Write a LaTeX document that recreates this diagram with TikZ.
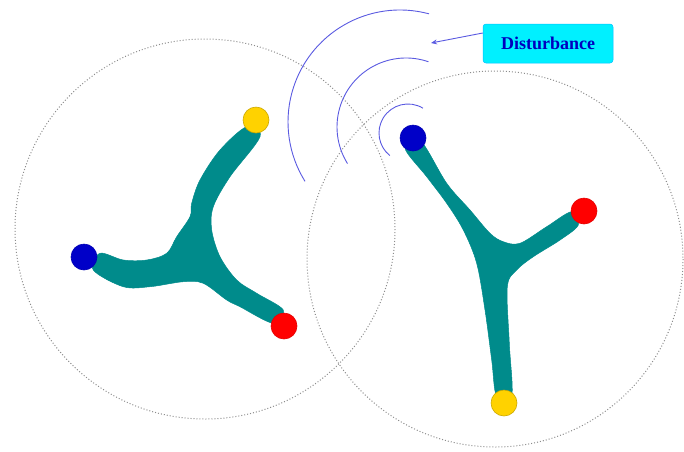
\documentclass[tikz,border=0pt]{standalone}
\usepackage{fontspec}
\setmainfont{Liberation Serif}
\usetikzlibrary{arrows.meta}
\definecolor{tealc}{RGB}{0,139,139}
\definecolor{ballblue}{RGB}{0,0,200}
\definecolor{ballred}{RGB}{255,0,0}
\definecolor{ballyellow}{RGB}{255,210,0}
\definecolor{wave}{RGB}{90,90,225}
\definecolor{boxcyan}{RGB}{0,240,255}
\definecolor{txtblue}{RGB}{0,0,190}
\definecolor{dotgray}{RGB}{140,140,140}
\tikzset{
  ball/.style={circle, minimum size=26pt, inner sep=0pt, line width=0.6pt},
  yball/.style={ball, fill=ballyellow, draw=ballyellow!80!black},
  rball/.style={ball, fill=ballred, draw=ballred!90!black},
  bball/.style={ball, fill=ballblue, draw=ballblue!90!black},
  ring/.style={draw=dotgray, dotted, line width=1pt},
  wavearc/.style={draw=wave, line width=0.9pt},
  body/.style={fill=tealc, draw=tealc, line width=0.5pt}
}
\begin{document}
\begin{tikzpicture}[x=1pt,y=-1pt]
\useasboundingbox (0,0) rectangle (684,451);
% rings
\draw[ring] (205,229) circle (190);
\draw[ring] (495,259) circle (188);
% waves
\draw[wavearc] (400,122) ++(-75:112) arc (-75:-212:112);
\draw[wavearc] (406,127) ++(-71:69) arc (-71:-212:69);
\draw[wavearc] (408,133) ++(-59:29) arc (-59:-231:29);
% left molecule body
\draw[body] plot[smooth cycle, tension=0.55] coordinates {
 (246.7,126.7) (220,150) (200,180) (191.7,203.3) (190,216.7) (176.7,236.7)
 (166.7,253.3) (146.7,260) (123.3,260) (100,253.3) (93.3,270) (123.3,286.7)
 (150,286.7) (183.3,281.7) (203.3,283.3) (226.7,300) (240,306.7) (273.3,323.3)
 (283.3,310) (256.7,293.3) (236.7,280) (220,256.7) (211.7,230) (213.3,206.7)
 (230,176.7) (260,136.7)};
% right molecule body
\draw[body] plot[smooth cycle, tension=0.55] coordinates {
 (405,148.3) (426.7,176.7) (446.7,203.3) (463.3,230) (476.7,263.3) (485,310)
 (491.7,360) (496.7,396.7) (511.7,396.7) (509.3,343.3) (507.3,286.7) (516.7,270)
 (533.3,256.7) (560,240) (578.3,225) (571.7,211.7) (546.7,226.7) (520,243.3)
 (503.3,241.7) (490,233.3) (470,210) (446.7,183.3) (420,140)};
% balls
\node[yball] (ly) at (256,120) {};
\node[bball] (lb) at (84,257) {};
\node[rball] (lr) at (284,326) {};
\node[bball] (rb) at (413,138) {};
\node[rball] (rr) at (584,211) {};
\node[yball] (ry) at (504,403) {};
% label
\node[draw=boxcyan!80!blue, fill=boxcyan, rounded corners=3pt, line width=0.5pt,
      minimum width=130pt, minimum height=39pt, inner sep=0pt,
      text=txtblue, font=\bfseries\fontsize{18}{20}\selectfont] (dist) at (548,43.5) {Disturbance};
\coordinate (tip) at (431,43);
\draw[draw=wave, line width=0.9pt, -{Stealth[length=6pt,width=5pt]}] (dist.west |- 0,33) -- (tip);
\end{tikzpicture}
\end{document}
